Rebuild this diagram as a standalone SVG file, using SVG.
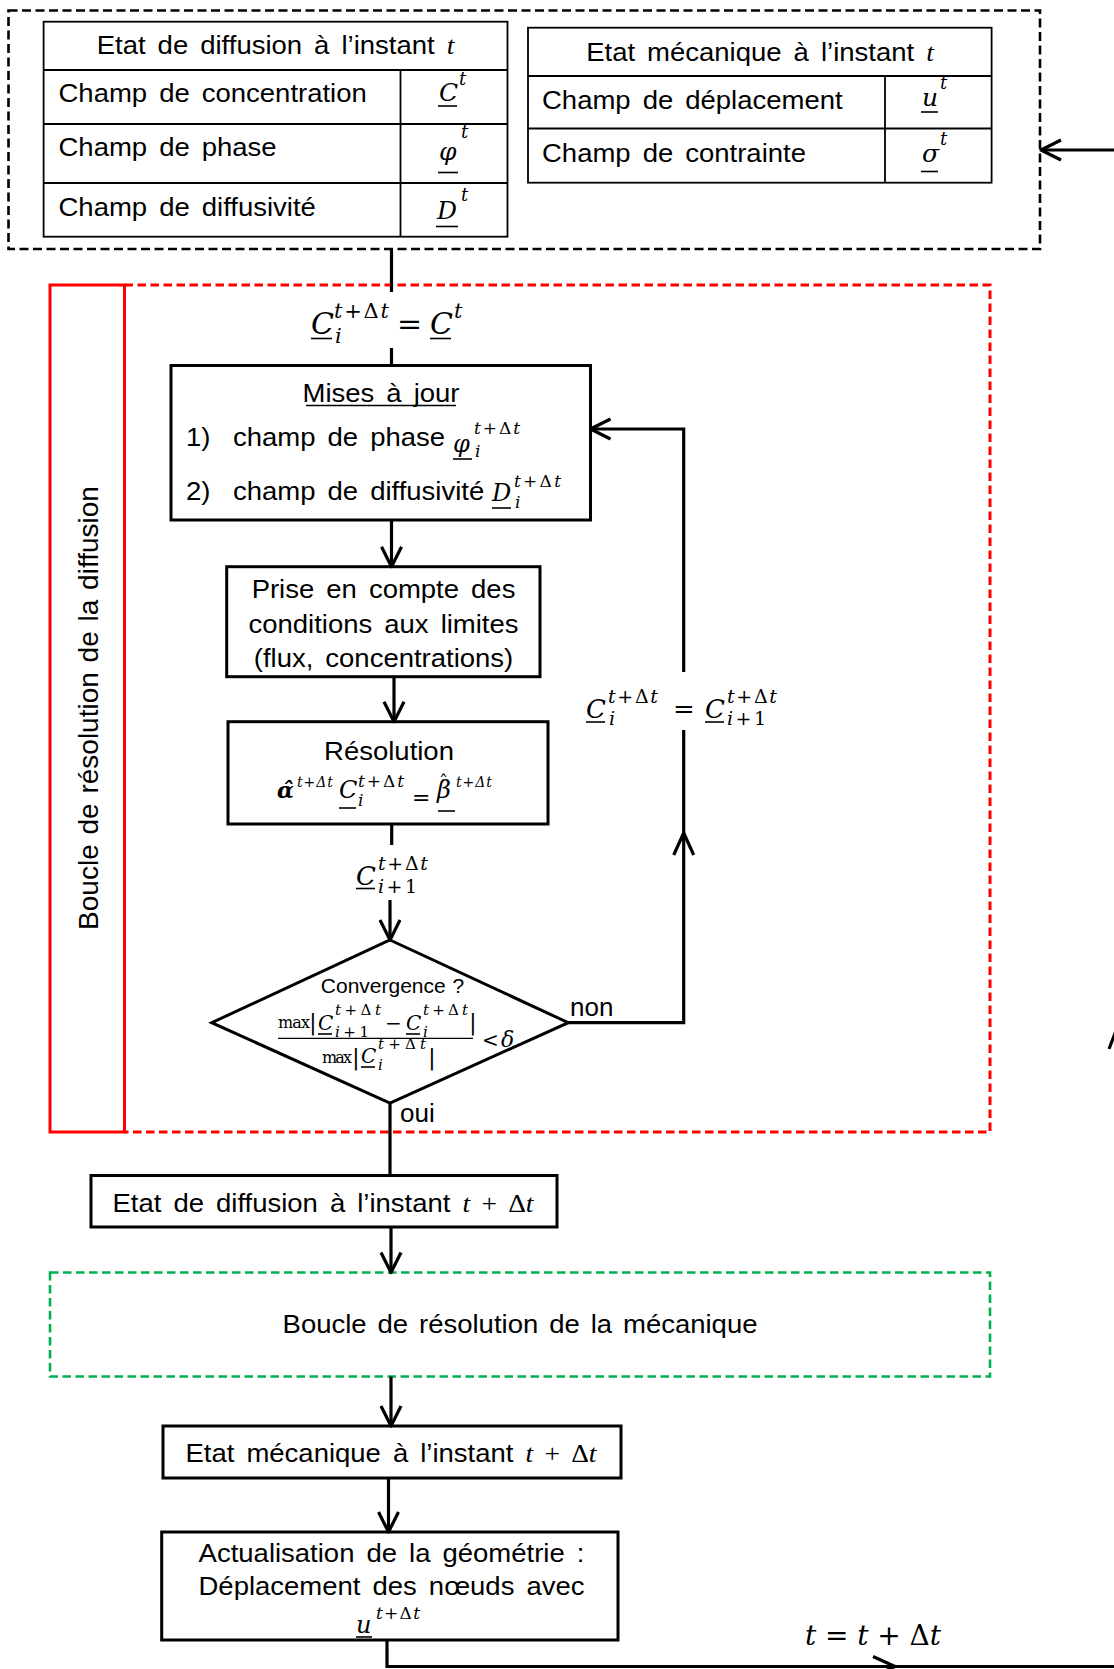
<svg xmlns="http://www.w3.org/2000/svg" width="1114" height="1669" viewBox="0 0 1114 1669">
<defs>
<style>
.t{font-family:"Liberation Sans",Arial,sans-serif;font-size:25px;word-spacing:4px;fill:#000}
.m{font-family:"DejaVu Serif","Liberation Serif",serif;font-style:italic;fill:#000}
.i{font-family:"Liberation Serif","Times New Roman",serif;font-style:italic}
.r{font-family:"DejaVu Serif","Liberation Serif",serif;font-style:normal;fill:#000}
.u{font-style:normal}
.box{fill:#fff;stroke:#000;stroke-width:3}
.tb{fill:#fff;stroke:#000;stroke-width:1.8}
.tl{stroke:#000;stroke-width:1.8}
.ul{stroke:#000;stroke-width:1.6}
.c{fill:none;stroke:#000;stroke-width:3.2}
.ca{fill:none;stroke:#000;stroke-width:3.2;marker-end:url(#ah)}
.hd{fill:none;stroke:#000;stroke-width:3.2;stroke-linejoin:round}
</style>
<marker id="ah" viewBox="0 0 24 24" refX="22" refY="12" markerWidth="24" markerHeight="24" markerUnits="userSpaceOnUse" orient="auto">
<path d="M2,2 L22,12 L2,22" fill="none" stroke="#000" stroke-width="3.2" stroke-linejoin="round"/>
</marker>
</defs>
<rect width="1114" height="1669" fill="#fff"/>

<g id="etat-initial">
<rect x="8.5" y="10.5" width="1031.5" height="238.5" fill="none" stroke="#000" stroke-width="2.6" stroke-dasharray="9 4.5"/>
</g>

<g id="table-diffusion">
<rect class="tb" x="43.6" y="21.7" width="463.9" height="215"/>
<line class="tl" x1="43.6" y1="70" x2="507.5" y2="70"/>
<line class="tl" x1="43.6" y1="124" x2="507.5" y2="124"/>
<line class="tl" x1="43.6" y1="183" x2="507.5" y2="183"/>
<line class="tl" x1="400.5" y1="70" x2="400.5" y2="236.7"/>
<text class="t" transform="translate(275.5,54) scale(1.1,1)" text-anchor="middle">Etat de diffusion à l’instant <tspan class="i">t</tspan></text>
<text class="t" transform="translate(58.5,102) scale(1.1,1)">Champ de concentration</text>
<text class="t" transform="translate(58.5,156) scale(1.1,1)">Champ de phase</text>
<text class="t" transform="translate(58.5,216) scale(1.1,1)">Champ de diffusivité</text>
<text class="m" x="439" y="101" font-size="25">C</text>
<text class="m" x="459" y="85" font-size="18">t</text>
<line class="ul" x1="438" y1="106" x2="457" y2="106"/>
<text class="m" x="439" y="160" font-size="25">φ</text>
<text class="m" x="461" y="138" font-size="18">t</text>
<line class="ul" x1="438" y1="172.5" x2="458" y2="172.5"/>
<text class="m" x="437" y="219" font-size="25">D</text>
<text class="m" x="461" y="201" font-size="18">t</text>
<line class="ul" x1="436" y1="226.5" x2="458" y2="226.5"/>
</g>

<g id="table-mecanique">
<rect class="tb" x="528" y="27.7" width="463.6" height="155"/>
<line class="tl" x1="528" y1="76" x2="991.6" y2="76"/>
<line class="tl" x1="528" y1="128.5" x2="991.6" y2="128.5"/>
<line class="tl" x1="885" y1="76" x2="885" y2="182.7"/>
<text class="t" transform="translate(760,61) scale(1.1,1)" text-anchor="middle">Etat mécanique à l’instant <tspan class="i">t</tspan></text>
<text class="t" transform="translate(542,109) scale(1.1,1)">Champ de déplacement</text>
<text class="t" transform="translate(542,162) scale(1.1,1)">Champ de contrainte</text>
<text class="m" x="922" y="106" font-size="25">u</text>
<text class="m" x="940" y="89" font-size="18">t</text>
<line class="ul" x1="921" y1="112" x2="938" y2="112"/>
<text class="m" x="922" y="162" font-size="25">σ</text>
<text class="m" x="940" y="145" font-size="18">t</text>
<line class="ul" x1="921" y1="171.5" x2="938" y2="171.5"/>
</g>

<g id="init-equation">
<text class="m" x="311" y="334" font-size="30">C</text>
<text class="m" x="334" y="318" font-size="21" textLength="55">t+<tspan class="u">Δ</tspan>t</text>
<text class="m" x="335" y="343" font-size="21">i</text>
<text class="r" x="397" y="334" font-size="30">=</text>
<text class="m" x="430" y="334" font-size="30">C</text>
<text class="m" x="454" y="318" font-size="21">t</text>
<line class="ul" x1="311" y1="338.5" x2="332" y2="338.5"/>
<line class="ul" x1="430" y1="338.5" x2="451" y2="338.5"/>
</g>

<g id="boucle-diffusion">
<rect x="50" y="285" width="74.5" height="847" fill="none" stroke="#f00" stroke-width="3"/>
<path d="M124.5,285 H990 V1132 H124.5" fill="none" stroke="#f00" stroke-width="3" stroke-dasharray="8.5 4.5"/>
<text class="t" transform="translate(98,708) rotate(-90)" text-anchor="middle" style="font-size:28px;word-spacing:2px">Boucle de résolution de la diffusion</text>
</g>

<g id="mises-a-jour">
<rect class="box" x="171" y="365.5" width="419.5" height="154.5"/>
<text class="t" transform="translate(381,402) scale(1.1,1)" text-anchor="middle">Mises à jour</text>
<line class="ul" x1="306" y1="405.5" x2="456" y2="405.5"/>
<text class="t" transform="translate(186,446) scale(1.1,1)">1)</text>
<text class="t" transform="translate(233,446) scale(1.1,1)">champ de phase</text>
<text class="m" x="453" y="452" font-size="24">φ</text>
<text class="m" x="474" y="434" font-size="17" textLength="46">t+<tspan class="u">Δ</tspan>t</text>
<text class="m" x="475" y="457" font-size="17">i</text>
<line class="ul" x1="453" y1="459" x2="472" y2="459"/>
<text class="t" transform="translate(186,500) scale(1.1,1)">2)</text>
<text class="t" transform="translate(233,500) scale(1.1,1)">champ de diffusivité</text>
<text class="m" x="492" y="501" font-size="24">D</text>
<text class="m" x="514" y="487" font-size="17" textLength="47">t+<tspan class="u">Δ</tspan>t</text>
<text class="m" x="515" y="508" font-size="17">i</text>
<line class="ul" x1="492" y1="508" x2="511" y2="508"/>
</g>

<g id="conditions-limites">
<rect class="box" x="226.7" y="566.7" width="313.3" height="110"/>
<text class="t" transform="translate(383.5,598) scale(1.1,1)" text-anchor="middle">Prise en compte des</text>
<text class="t" transform="translate(383.5,633) scale(1.1,1)" text-anchor="middle">conditions aux limites</text>
<text class="t" transform="translate(383.5,667) scale(1.1,1)" text-anchor="middle">(flux, concentrations)</text>
</g>

<g id="resolution">
<rect class="box" x="228" y="721.7" width="320" height="102.3"/>
<text class="t" transform="translate(389,760) scale(1.1,1)" text-anchor="middle">Résolution</text>
<text class="m" x="277" y="798" font-size="22" font-weight="bold">α̂</text>
<text class="m" x="297" y="787" font-size="14" textLength="36">t+Δt</text>
<text class="m" x="339" y="798" font-size="24">C</text>
<text class="m" x="358" y="787" font-size="17" textLength="46">t+<tspan class="u">Δ</tspan>t</text>
<text class="m" x="358" y="806" font-size="17">i</text>
<line class="ul" x1="339" y1="808" x2="356" y2="808"/>
<text class="r" x="412" y="805" font-size="22">=</text>
<text class="m" x="437" y="798" font-size="24">β<tspan class="u" dx="-12" dy="-9" font-size="18">ˆ</tspan><tspan dx="8" dy="-2" font-size="14" letter-spacing="1">t+Δt</tspan></text>
<line class="ul" x1="438" y1="811" x2="455" y2="811"/>
</g>

<g id="iterate-label">
<text class="m" x="356" y="885" font-size="26">C</text>
<text class="m" x="378" y="870" font-size="19" textLength="50">t+<tspan class="u">Δ</tspan>t</text>
<text class="m" x="378" y="893" font-size="19" textLength="39">i<tspan class="u">+1</tspan></text>
<line class="ul" x1="356" y1="888.5" x2="375" y2="888.5"/>
</g>

<g id="convergence">
<polygon points="390,940 568.3,1022.7 390,1103 211.7,1022.7" fill="#fff" stroke="#000" stroke-width="3"/>
<text class="t" transform="translate(392.5,993)" text-anchor="middle" style="font-size:21px;word-spacing:1px">Convergence ?</text>
<text class="r" x="278" y="1028" font-size="16" textLength="32">max</text>
<text class="r" x="309" y="1030" font-size="23">|</text>
<text class="m" x="318" y="1030" font-size="20">C</text>
<text class="m" x="335" y="1015" font-size="15" textLength="46">t+<tspan class="u">Δ</tspan>t</text>
<text class="m" x="335" y="1037" font-size="15" textLength="34">i<tspan class="u">+1</tspan></text>
<line class="ul" x1="318" y1="1034" x2="332" y2="1034"/>
<text class="r" x="385" y="1030" font-size="20">−</text>
<text class="m" x="406" y="1030" font-size="20">C</text>
<text class="m" x="423" y="1015" font-size="15" textLength="45">t+<tspan class="u">Δ</tspan>t</text>
<text class="m" x="423" y="1037" font-size="15">i</text>
<line class="ul" x1="406" y1="1034" x2="420" y2="1034"/>
<text class="r" x="469" y="1030" font-size="23">|</text>
<line x1="278" y1="1038.3" x2="473" y2="1038.3" stroke="#000" stroke-width="1.3"/>
<text class="r" x="322" y="1063" font-size="16" textLength="30">max</text>
<text class="r" x="352" y="1065" font-size="23">|</text>
<text class="m" x="361" y="1063" font-size="20">C</text>
<text class="m" x="378" y="1049" font-size="15" textLength="48">t+<tspan class="u">Δ</tspan>t</text>
<text class="m" x="378" y="1070" font-size="15">i</text>
<line class="ul" x1="361" y1="1067" x2="375" y2="1067"/>
<text class="r" x="428" y="1065" font-size="23">|</text>
<text class="r" x="482" y="1047" font-size="20">&lt;</text>
<text class="m" x="501" y="1047" font-size="22">δ</text>
</g>

<g id="labels">
<text class="t" transform="translate(570,1016)" style="font-size:26px">non</text>
<text class="t" transform="translate(400,1122)" style="font-size:26px">oui</text>
<text class="m" x="586" y="718" font-size="26">C</text>
<text class="m" x="608" y="703" font-size="19" textLength="50">t+<tspan class="u">Δ</tspan>t</text>
<text class="m" x="609" y="725" font-size="19">i</text>
<line class="ul" x1="586" y1="722" x2="605" y2="722"/>
<text class="r" x="673" y="718" font-size="26">=</text>
<text class="m" x="705" y="718" font-size="26">C</text>
<text class="m" x="727" y="703" font-size="19" textLength="50">t+<tspan class="u">Δ</tspan>t</text>
<text class="m" x="727" y="725" font-size="19" textLength="39">i<tspan class="u">+1</tspan></text>
<line class="ul" x1="705" y1="722" x2="724" y2="722"/>
<text class="m" x="805" y="1645" font-size="28" textLength="136">t <tspan class="u">= </tspan>t <tspan class="u">+ Δ</tspan>t</text>
</g>

<g id="etat-diffusion-tdt">
<rect class="box" x="91" y="1175.5" width="466" height="51.5"/>
<text class="t" transform="translate(323,1211.5) scale(1.1,1)" text-anchor="middle">Etat de diffusion à l’instant <tspan class="i">t <tspan class="u">+ Δ</tspan>t</tspan></text>
</g>

<g id="boucle-mecanique">
<rect x="50" y="1272.5" width="940" height="104" fill="none" stroke="#00b050" stroke-width="2.6" stroke-dasharray="8.5 4.5"/>
<text class="t" transform="translate(520,1333) scale(1.1,1)" text-anchor="middle" style="word-spacing:3px">Boucle de résolution de la mécanique</text>
</g>

<g id="etat-mecanique-tdt">
<rect class="box" x="163" y="1426" width="458" height="52"/>
<text class="t" transform="translate(391,1461.5) scale(1.1,1)" text-anchor="middle">Etat mécanique à l’instant <tspan class="i">t <tspan class="u">+ Δ</tspan>t</tspan></text>
</g>

<g id="actualisation">
<rect class="box" x="161.7" y="1532" width="456.3" height="108"/>
<text class="t" transform="translate(391.5,1561.5) scale(1.1,1)" text-anchor="middle">Actualisation de la géométrie :</text>
<text class="t" transform="translate(391.5,1595) scale(1.1,1)" text-anchor="middle">Déplacement des nœuds avec</text>
<text class="m" x="356" y="1633" font-size="24">u</text>
<text class="m" x="376" y="1619" font-size="17" textLength="44">t+<tspan class="u">Δ</tspan>t</text>
<line class="ul" x1="356" y1="1637" x2="372" y2="1637"/>
</g>

<g id="connectors">
<line class="ca" x1="1114" y1="150" x2="1041" y2="150"/>
<line class="c" x1="391.5" y1="249" x2="391.5" y2="292"/>
<line class="c" x1="391.5" y1="348" x2="391.5" y2="365.5"/>
<line class="ca" x1="391.5" y1="520" x2="391.5" y2="566.7"/>
<line class="ca" x1="394" y1="676.7" x2="394" y2="721.7"/>
<line class="c" x1="391.7" y1="824" x2="391.7" y2="845"/>
<line class="ca" x1="390" y1="900" x2="390" y2="940"/>
<path class="c" d="M568.3,1022.7 H683.7 V730"/>
<path class="ca" d="M683.7,672 V429 H590.5"/>
<path class="hd" d="M673.7,855 L683.7,833 L693.7,855"/>
<line class="c" x1="390" y1="1103" x2="390" y2="1175.5"/>
<line class="ca" x1="391" y1="1227" x2="391" y2="1272.5"/>
<line class="ca" x1="391" y1="1376.5" x2="391" y2="1426"/>
<line class="ca" x1="388.5" y1="1478" x2="388.5" y2="1532"/>
<path class="c" d="M387,1640 V1666.5 H1114"/>
<path class="hd" d="M873,1656.5 L895,1666.5 L873,1676.5"/>
<path class="hd" d="M1109,1049 L1117,1028 L1125,1049"/>
</g>
</svg>
